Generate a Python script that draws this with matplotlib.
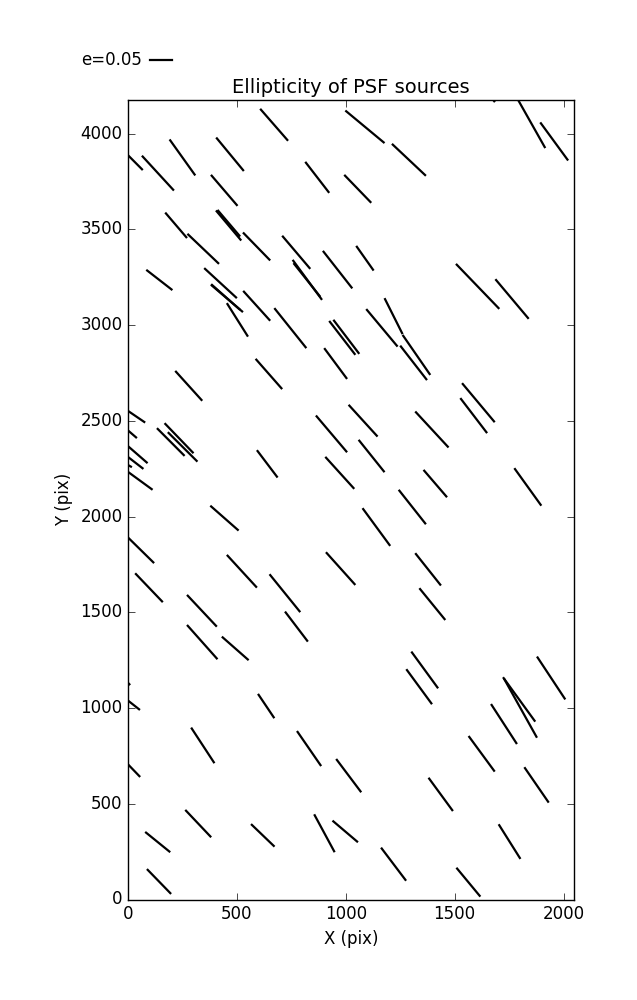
"""Whisker plot of PSF source ellipticity across the detector."""

import matplotlib
matplotlib.use("Agg")
import matplotlib.pyplot as plt
from matplotlib.lines import Line2D

# whisker endpoints in detector pixels
x_start = [607, 998, 1212, 1791, 1893, 1660, -15, 64, 191, 405,
           814, 993, 381, 171, 273, 404, 411, 528, 708, 756,
           760, 895, 1048, 84, 350, 381, 382, 454, 529, 672,
           924, 943, 901, 586, 217, 1013, -10, -10, -5, -5,
           -40, -10, 133, 168, 183, 592, 863, 906, 1506, 1687,
           1178, 1261, 1094, 1250, 1319, 1534, 1526, 1059, 1357, 1243,
           1774, 378, -8, 33, 454, 650, 909, 271, 271, 431,
           721, -90, -40, 597, 1077, 1319, 1338, 1301, 1278, 1722,
           1726, 1878, 290, 776, 956, -5, 263, 79, 565, 855,
           939, 87, 1667, 1564, 1820, 1380, 1702, 1162, 1508]
y_start = [4130, 4121, 3947, 4177, 4059, 4200, 3905, 3885, 3970, 3980,
           3853, 3785, 3785, 3588, 3477, 3599, 3602, 3484, 3467, 3341,
           3324, 3388, 3414, 3289, 3298, 3211, 3214, 3115, 3179, 3089,
           3022, 3028, 2880, 2824, 2761, 2584, 2560, 2460, 2373, 2316,
           2295, 2242, 2462, 2488, 2441, 2347, 2528, 2312, 3320, 3240,
           3141, 2949, 3084, 2893, 2549, 2697, 2619, 2401, 2244, 2140,
           2253, 2057, 1900, 1704, 1800, 1699, 1814, 1591, 1434, 1373,
           1504, 1240, 1075, 1074, 2044, 1809, 1626, 1295, 1203, 1161,
           1155, 1269, 898, 880, 734, 712, 468, 353, 394, 445,
           412, 159, 1021, 854, 691, 636, 393, 271, 166]
x_end = [735, 1178, 1368, 1916, 2021, 1685, 68, 211, 309, 532,
         924, 1117, 503, 271, 418, 520, 515, 653, 837, 891,
         883, 1030, 1128, 204, 500, 528, 515, 551, 653, 819,
         1044, 1062, 1006, 708, 341, 1146, 79, 41, 90, 71,
         18, 113, 260, 301, 319, 687, 1006, 1039, 1705, 1840,
         1261, 1388, 1238, 1373, 1472, 1684, 1649, 1178, 1465, 1368,
         1898, 508, 120, 160, 592, 791, 1044, 408, 411, 554,
         826, 10, 55, 672, 1204, 1437, 1457, 1424, 1396, 1870,
         1878, 2008, 397, 887, 1071, 56, 382, 194, 673, 949,
         1056, 198, 1786, 1684, 1932, 1492, 1802, 1277, 1618]
y_end = [3963, 3951, 3780, 3925, 3860, 4165, 3810, 3703, 3782, 3805,
         3691, 3639, 3623, 3455, 3320, 3442, 3463, 3338, 3294, 3132,
         3148, 3192, 3285, 3183, 3141, 3068, 3080, 2940, 3023, 2880,
         2845, 2850, 2719, 2666, 2605, 2418, 2491, 2410, 2279, 2249,
         2258, 2140, 2317, 2331, 2287, 2204, 2336, 2145, 3085, 3033,
         2953, 2740, 2888, 2713, 2361, 2493, 2436, 2232, 2101, 1960,
         2057, 1927, 1757, 1553, 1629, 1501, 1643, 1425, 1255, 1250,
         1347, 1120, 990, 947, 1847, 1640, 1460, 1103, 1020, 929,
         845, 1045, 712, 697, 560, 640, 325, 247, 276, 247,
         299, 29, 812, 668, 506, 462, 212, 98, 15]

key_label = "e=0.05"

plt.style.use("classic")
fig = plt.figure(figsize=(6.37, 10), dpi=100, facecolor="white")
ax = fig.add_axes([0.2009, 0.1005, 0.7002, 0.7995])

for xa, ya, xb, yb in zip(x_start, y_start, x_end, y_end):
    ax.plot([xa, xb], [ya, yb], color="black", lw=1.6, solid_capstyle="butt")

ax.set_xlim(0, 2048)
ax.set_ylim(0, 4176)
ax.set_xticks([0, 500, 1000, 1500, 2000])
ax.set_yticks(range(0, 4001, 500))
ax.set_xlabel("X (pix)", fontsize=12)
ax.set_ylabel("Y (pix)", fontsize=12)
ax.set_title("Ellipticity of PSF sources", fontsize=14)
ax.tick_params(direction="in", length=5, top=True, right=True, labelsize=12)

# scale key above the axes
fig.text(81 / 637, 0.94, key_label, fontsize=12, ha="left", va="center")
fig.add_artist(Line2D([150 / 637, 172 / 637], [0.94, 0.94],
                      transform=fig.transFigure, color="black", lw=1.6))

fig.savefig("out.png", dpi=100, facecolor="white")
plt.close(fig)
